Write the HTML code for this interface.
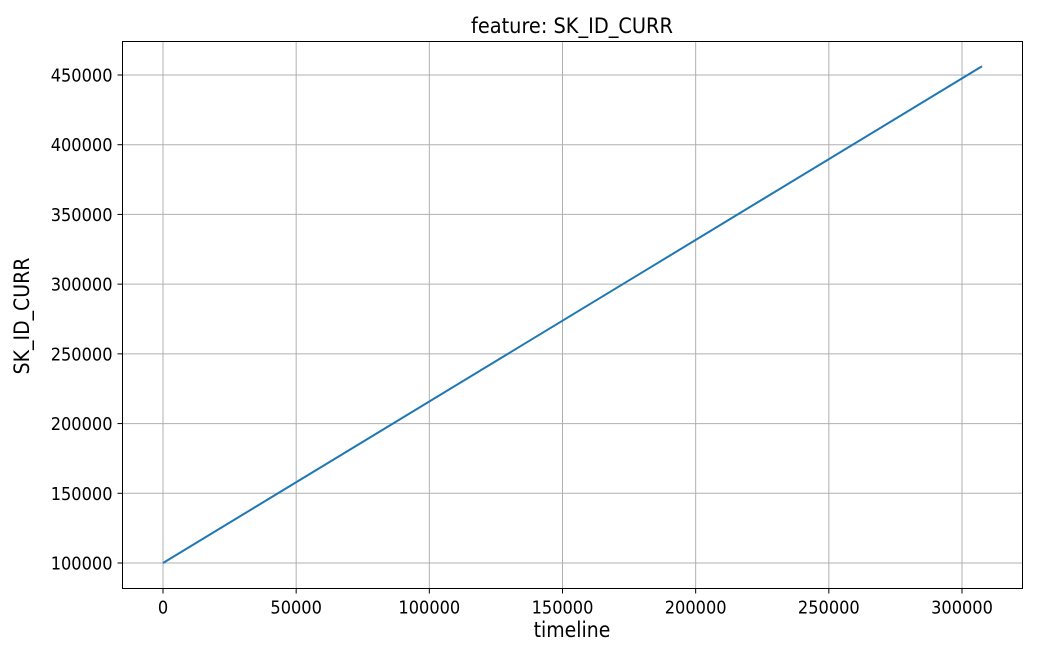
<!DOCTYPE html>
<html><head><meta charset="utf-8"><style>
body{margin:0;background:#fff;}
svg text{font-family:"DejaVu Sans Condensed","DejaVu Sans","Liberation Sans",sans-serif;font-stretch:condensed;fill:#000;}
</style></head><body>
<svg id="chart" width="1057" height="657" xmlns="http://www.w3.org/2000/svg">
<rect width="1057" height="657" fill="#fff"/>
<g id="grid"></g>
<g id="ticks"></g>
<path id="series" fill="none" stroke="#1f77b4" stroke-width="2"/>
<rect x="122.5" y="41.5" width="900" height="547" fill="none" stroke="#000" stroke-width="1"/>
<text x="572" y="33" font-size="21.5" text-anchor="middle">feature: SK_ID_CURR</text>
<text x="572" y="637" font-size="21" text-anchor="middle">timeline</text>
<text x="29" y="316" font-size="21" text-anchor="middle" transform="rotate(-90 29 316)">SK_ID_CURR</text>
</svg>
<script>
const xTicks=[0,50000,100000,150000,200000,250000,300000];
const yTicks=[100000,150000,200000,250000,300000,350000,400000,450000];
const seriesX=[0,307510];
const seriesY=[100002,456255];
const L=122.5,R=1022.5,T=41.5,B=588.5;
function xs(v){return 163+v*(799/300000);}
function ys(v){return 563-(v-100000)*(488/350000);}
const NS="http://www.w3.org/2000/svg";
const grid=document.getElementById('grid'),ticks=document.getElementById('ticks');
function mk(tag,attrs,parent){const e=document.createElementNS(NS,tag);for(const k in attrs)e.setAttribute(k,attrs[k]);parent.appendChild(e);return e;}
xTicks.forEach(v=>{const x=xs(v);
 const g=mk('line',{x1:x,x2:x,y1:T,y2:B,stroke:'#b0b0b0','stroke-width':1},grid);
 
 
 const t=mk('line',{x1:x,x2:x,y1:B,y2:B+5,stroke:'#000'},ticks);
 
 
 const l=mk('text',{x:x,y:B+25,'font-size':18,'text-anchor':'middle'},ticks);l.textContent=v;
 
 
});
yTicks.forEach(v=>{const y=ys(v);
 const g=mk('line',{x1:L,x2:R,y1:y,y2:y,stroke:'#b0b0b0','stroke-width':1},grid);
 
 
 const t=mk('line',{x1:L-5,x2:L,y1:y,y2:y,stroke:'#000'},ticks);
 
 
 const l=mk('text',{x:L-10,y:y+6.5,'font-size':18,'text-anchor':'end'},ticks);l.textContent=v;
 
 
});
document.getElementById('series').setAttribute('d',seriesX.map((v,i)=>(i?'L':'M')+xs(v)+','+ys(seriesY[i])).join(' '));
</script>
</body></html>
